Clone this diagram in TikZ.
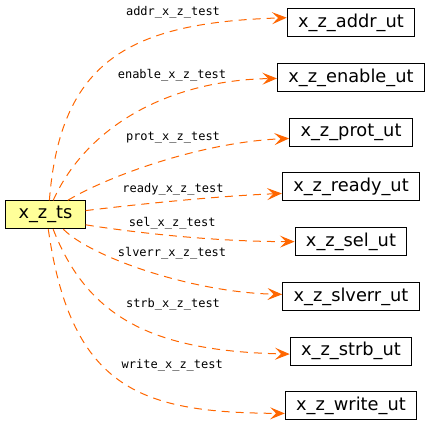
\documentclass[tikz,border=0pt]{standalone}
\usepackage{fontspec}
\setmainfont{DejaVu Sans}
\setmonofont{DejaVu Sans Mono}
\usetikzlibrary{arrows.meta,positioning}
\definecolor{tsorange}{HTML}{FF6600}
\definecolor{tsyellow}{HTML}{FFFF99}
\tikzset{
  ut/.style={draw=black, line width=0.75pt, fill=white, minimum height=21pt,
    inner xsep=8.2pt, inner ysep=1pt, font=\fontsize{13.35}{15}\selectfont},
  src/.style={ut, fill=tsyellow, minimum width=59.5pt},
  sig/.style={inner sep=0pt, font=\ttfamily\fontsize{9}{10}\selectfont},
  flow/.style={-{Stealth[length=11pt, width=9pt, inset=4.5pt]}, line width=0.75pt,
    draw=tsorange, dash pattern=on 6pt off 4.5pt},
}

\begin{document}
\begin{tikzpicture}[x=0.75pt, y=0.75pt, node distance=19.3pt]
\useasboundingbox (0,0) rectangle (429,425);
\node[src] (ts) at (45.5,210.2) {x\_z\_ts};
\node[ut] (addr) at (351,402.3) {x\_z\_addr\_ut};
\node[ut, below=of addr] (enable) {x\_z\_enable\_ut};
\node[ut, below=of enable] (prot) {x\_z\_prot\_ut};
\node[ut, below=of prot] (ready) {x\_z\_ready\_ut};
\node[ut, below=of ready] (sel) {x\_z\_sel\_ut};
\node[ut, below=of sel] (slverr) {x\_z\_slverr\_ut};
\node[ut, below=of slverr] (strb) {x\_z\_strb\_ut};
\node[ut, below=of strb] (write) {x\_z\_write\_ut};
\draw[flow] (ts.75) .. controls +(11,140) and +(-157,-5) .. ([yshift=3.75pt]addr.west);
\draw[flow] (ts.62) .. controls +(33,73) and +(-110,-2) .. ([yshift=-0.75pt]enable.west);
\draw[flow] (ts.33) .. controls +(38,23) and +(-90,-4) .. ([yshift=-4.7pt]prot.west);
\draw[flow] (ts.6) .. controls +(50,6) and +(-70,-3) .. ([yshift=-4.9pt]ready.west);
\draw[flow] (ts.-14) .. controls +(50,-8) and +(-80,0) .. (sel.west);
\draw[flow] (ts.-39) .. controls +(28,-28) and +(-90,2) .. ([yshift=1.5pt]slverr.west);
\draw[flow] (ts.-62) .. controls +(36,-93) and +(-130,3) .. ([yshift=-2.25pt]strb.west);
\draw[flow] (ts.-79) .. controls +(23,-163) and +(-140,1) .. ([yshift=-5.7pt]write.west);
\node[sig] (laddr) at (173,413) {addr\_x\_z\_test};
\node[sig] (lenable) at (172,350) {enable\_x\_z\_test};
\node[sig] (lprot) at (173,287.3) {prot\_x\_z\_test};
\node[sig] (lready) at (173,236) {ready\_x\_z\_test};
\node[sig] (lsel) at (172.2,202) {sel\_x\_z\_test};
\node[sig] (lslverr) at (172,171.7) {slverr\_x\_z\_test};
\node[sig] (lstrb) at (173,121) {strb\_x\_z\_test};
\node[sig] (lwrite) at (172.3,60) {write\_x\_z\_test};
\end{tikzpicture}
\end{document}
